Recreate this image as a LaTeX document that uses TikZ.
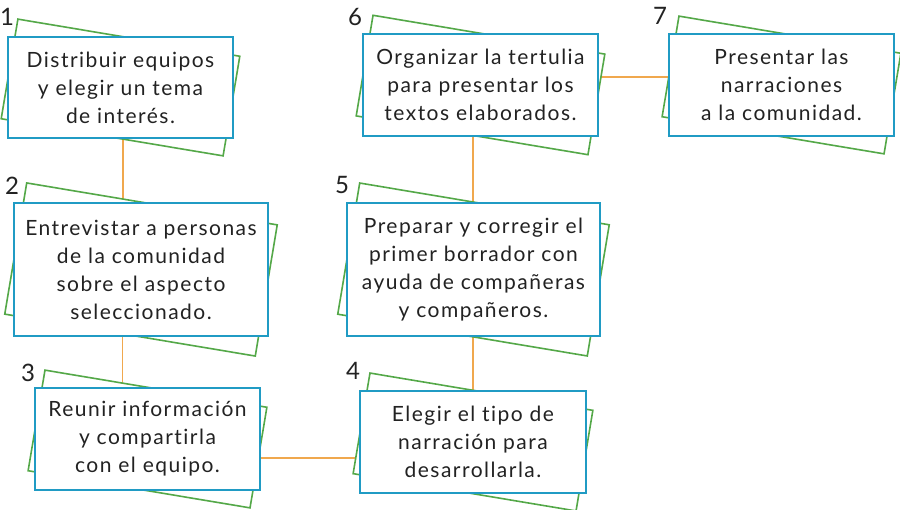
\documentclass[tikz,border=0pt]{standalone}
\usepackage{fontspec}
\setmainfont{Lato}[LetterSpace=7, Ligatures={NoCommon,NoRare}]
\usetikzlibrary{backgrounds}
\definecolor{boxblue}{RGB}{32,155,196}
\definecolor{cardgreen}{RGB}{84,168,72}
\definecolor{linkorange}{RGB}{240,168,78}
\definecolor{textgray}{RGB}{34,34,34}
\begin{document}
\begin{tikzpicture}[x=1pt,y=-1pt,
  card/.style={draw=boxblue, line width=1.6pt, fill=white, align=center, inner sep=0pt,
    font=\fontsize{21}{28}\selectfont, text=textgray},
  back/.style={draw=cardgreen, line width=1.6pt, fill=white, rotate=-9.5, inner sep=0pt},
  conn/.style={draw=linkorange, line width=1.6pt},
  num/.style={font=\fontsize{24}{24}\selectfont, text=textgray, inner sep=0pt}]
\useasboundingbox (0,0) rectangle (900,510);

% card 1
\node[back, minimum width=225pt, minimum height=101pt] (g1) at (120.5,87.5) {};
\node[card, minimum width=225pt, minimum height=101pt] (b1) at (120.5,87.5)
  {Distribuir equipos\\y elegir un tema\\de interés.};
% card 2
\node[back, minimum width=254pt, minimum height=133pt] (g2) at (141,269.5) {};
\node[card, minimum width=254pt, minimum height=133pt] (b2) at (141,269.5)
  {Entrevistar a personas\\de la comunidad\\sobre el aspecto\\seleccionado.};
% card 3
\node[back, minimum width=225pt, minimum height=102pt] (g3) at (147.5,439) {};
\node[card, minimum width=225pt, minimum height=102pt] (b3) at (147.5,439)
  {Reunir información\\y compartirla\\con el equipo.};
% card 4
\node[back, minimum width=226pt, minimum height=102pt] (g4) at (473,442) {};
\node[card, minimum width=226pt, minimum height=102pt] (b4) at (473,442)
  {Elegir el tipo de\\narración para\\desarrollarla.};
% card 5
\node[back, minimum width=253pt, minimum height=133pt] (g5) at (473.5,269.5) {};
\node[card, minimum width=253pt, minimum height=133pt] (b5) at (473.5,269.5)
  {Preparar y corregir el\\primer borrador con\\ayuda de compañeras\\y compañeros.};
% card 6
\node[back, minimum width=235pt, minimum height=102pt] (g6) at (480.5,85) {};
\node[card, minimum width=235pt, minimum height=102pt] (b6) at (480.5,85)
  {Organizar la tertulia\\para presentar los\\textos elaborados.};
% card 7
\node[back, minimum width=225pt, minimum height=102pt] (g7) at (781.5,85) {};
\node[card, minimum width=225pt, minimum height=102pt] (b7) at (781.5,85)
  {Presentar las\\narraciones\\a la comunidad.};

% numbers
\node[num] (n1) at (7,17) {1};
\node[num] (n2) at (12,186) {2};
\node[num] (n3) at (28,373) {3};
\node[num] (n4) at (353,371) {4};
\node[num] (n5) at (342,185) {5};
\node[num] (n6) at (355,17) {6};
\node[num] (n7) at (660,16) {7};

\begin{scope}[on background layer]
  \fill[white] (0,0) rectangle (900,510);
  \draw[conn] ([xshift=2.5pt]b1.south) -- ([xshift=2.5pt]b1.south |- b2.north);
  \draw[conn] ([xshift=2pt]b1.south |- b2.south) -- ([xshift=2pt]b1.south |- b3.north);
  \draw[conn] ([yshift=-19pt]b3.east) -- ([yshift=-19pt]b3.east -| b4.west);
  \draw[conn] (b4.north) -- (b4.north |- b5.south);
  \draw[conn] (b4.north |- b5.north) -- (b4.north |- b6.south);
  \draw[conn] ([yshift=8pt]b6.east) -- ([yshift=8pt]b6.east -| b7.west);
\end{scope}
\end{tikzpicture}
\end{document}
